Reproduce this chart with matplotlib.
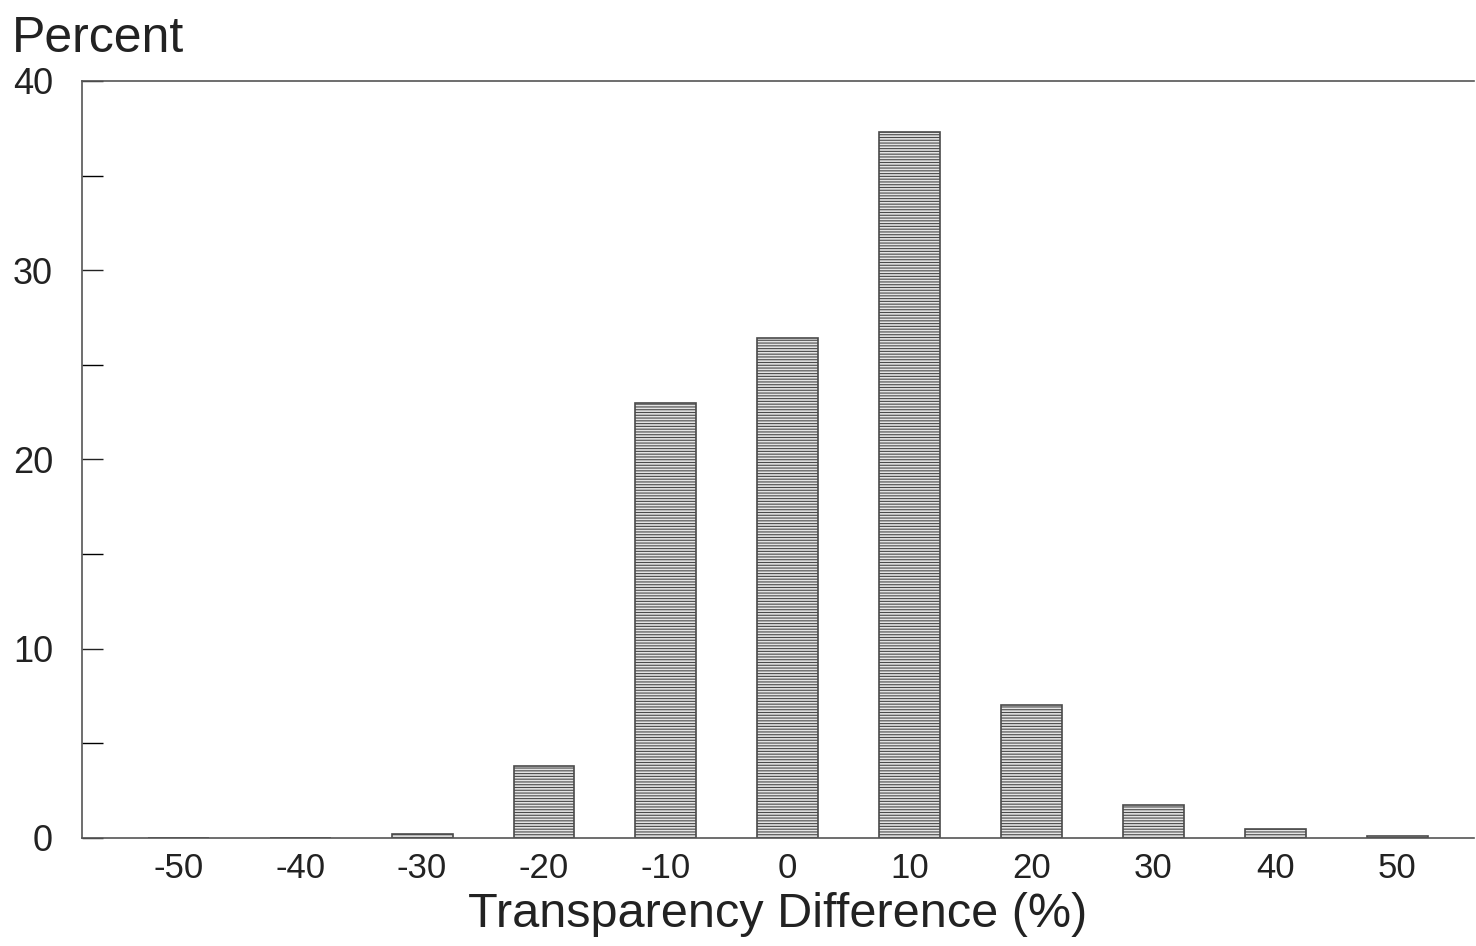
import matplotlib.pyplot as plt
from matplotlib.ticker import MultipleLocator

plt.rcParams['font.family'] = ['Liberation Sans', 'DejaVu Sans']
plt.rcParams['hatch.color'] = '#7a7a7a'
plt.rcParams['hatch.linewidth'] = 0.8

# transparency difference bins (%) and share of cases (percent)
bins = [-50, -40, -30, -20, -10, 0, 10, 20, 30, 40, 50]
percent = [0.0, 0.0, 0.2, 3.8, 23.0, 26.4, 37.3, 7.0, 1.75, 0.5, 0.1]

fig = plt.figure(figsize=(14.76, 9.46), dpi=100)
ax = fig.add_axes([0.0556, 0.1142, 0.943, 0.8002])

ax.bar(bins, percent, width=5, color='#e4e4e4', edgecolor='#4a4a4a',
       linewidth=1.2, hatch='------')

ax.set_xlim(-57.9, 56.3)
ax.set_ylim(0, 40)
ax.set_xticks(bins)
ax.set_xticklabels([str(b) for b in bins])
ax.yaxis.set_major_locator(MultipleLocator(10))
ax.yaxis.set_minor_locator(MultipleLocator(5))

ax.tick_params(axis='x', length=0, pad=10, labelsize=25, colors='#222222')
ax.tick_params(axis='y', which='major', direction='in', length=15, width=1,
               pad=21, labelsize=26, colors='#222222')
ax.tick_params(axis='y', which='minor', direction='in', length=15, width=1)

ax.spines['right'].set_visible(False)
for s in ['left', 'top', 'bottom']:
    ax.spines[s].set_color('#555555')
    ax.spines[s].set_linewidth(1.2)

ax.set_xlabel('Transparency Difference (%)', fontsize=35, color='#222222', labelpad=5)
fig.text(0.008, 0.945, 'Percent', fontsize=36, color='#222222', ha='left', va='baseline')

fig.savefig('out.png', dpi=100)
